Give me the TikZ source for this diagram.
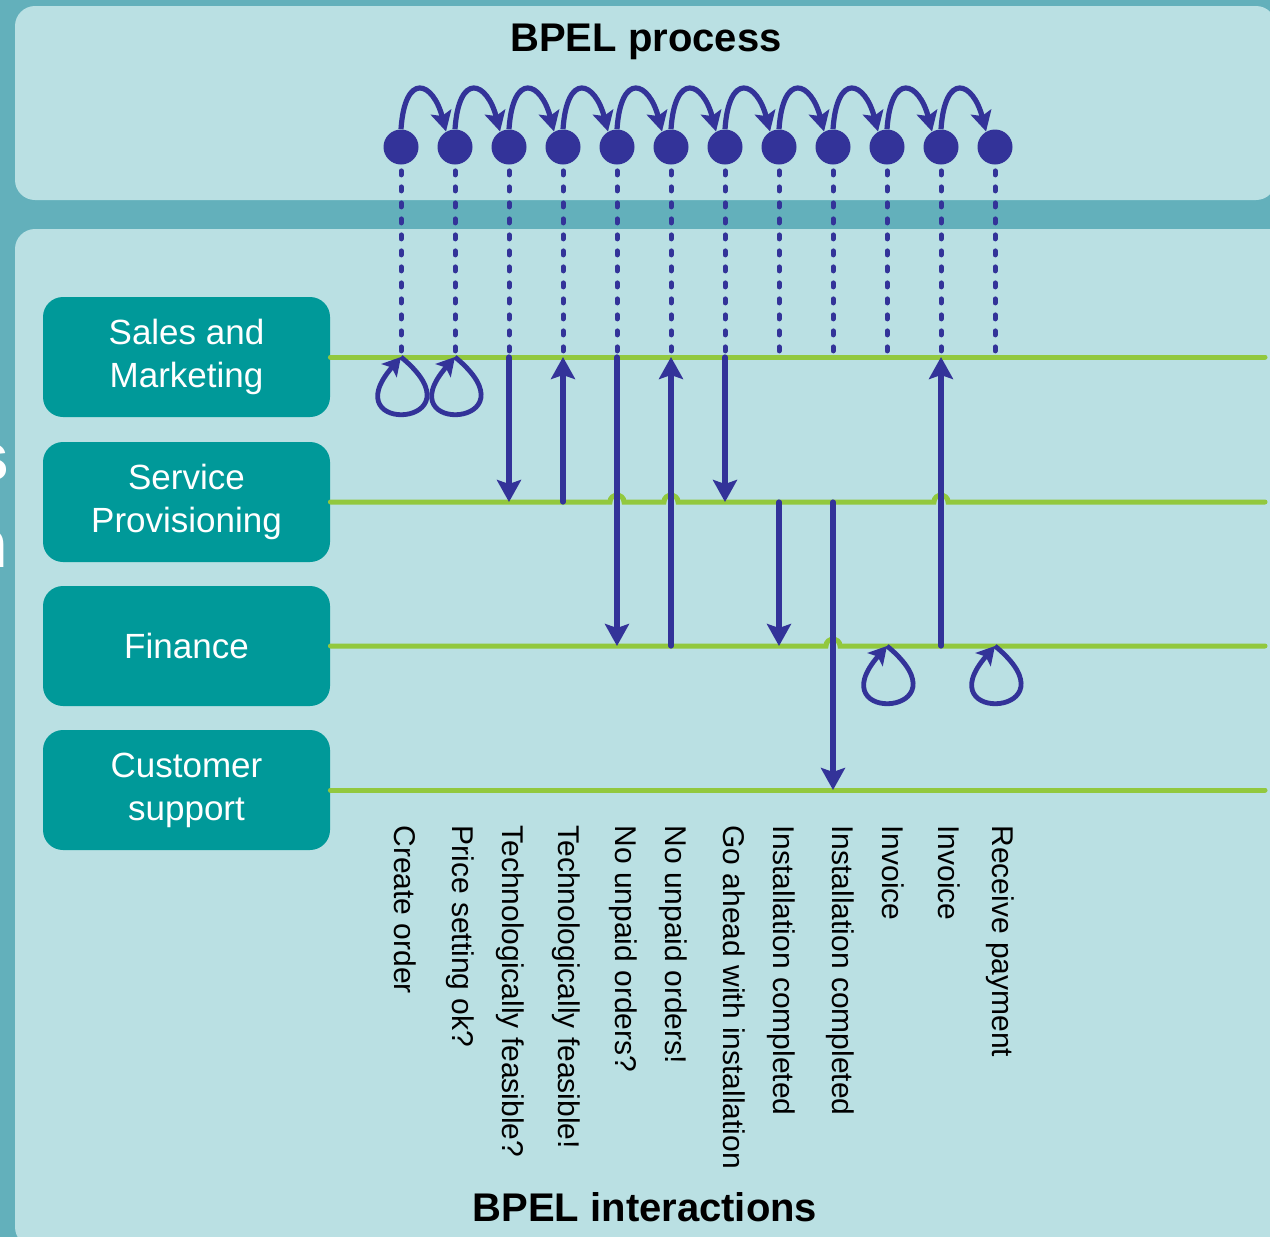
\documentclass[tikz,border=0pt]{standalone}
\usepackage{fontspec}
\setmainfont{Liberation Sans}
\usetikzlibrary{arrows.meta}
\definecolor{bgteal}{HTML}{63B0BB}
\definecolor{panelc}{HTML}{BAE0E3}
\definecolor{lanec}{HTML}{009999}
\definecolor{greenc}{HTML}{92C83E}
\definecolor{bluec}{HTML}{333399}
\begin{document}
\begin{tikzpicture}[x=0.5pt,y=-0.5pt,
  panel/.style={fill=panelc, rounded corners=10pt},
  lanebox/.style={fill=lanec, rounded corners=10pt, minimum width=143.5pt, minimum height=60pt, inner sep=0pt, align=center, text=white, font=\fontsize{17.5}{21.5}\selectfont},
  laneline/.style={draw=greenc, line width=2.5pt, line cap=round},
  dot/.style={circle, fill=bluec, minimum size=17.5pt, inner sep=0pt},
  seqarrow/.style={draw=bluec, line width=2.6pt, -{Stealth[length=10pt,width=10.5pt,inset=2pt]}},
  dashline/.style={draw=bluec, line width=2.5pt, line cap=round, dash pattern=on 2pt off 6pt},
  msg/.style={draw=bluec, line width=2.6pt, line cap=round, -{Stealth[length=11pt,width=12pt,inset=2pt]}},
  selfloop/.style={draw=bluec, line width=2.4pt, -{Stealth[length=9pt,width=10pt,inset=2pt]}},
  lbl/.style={rotate=-90, anchor=base west, inner sep=0pt, font=\fontsize{15}{18}\selectfont},
  title/.style={anchor=base, inner sep=0pt, font=\bfseries\fontsize{20}{24}\selectfont},
  cut/.style={anchor=base east, inner sep=0pt, text=white, font=\bfseries\fontsize{34}{40}\selectfont}
]
\useasboundingbox (0,0) rectangle (1270,1237);
\fill[bgteal] (0,0) rectangle (1270,1237);
% cut-off letters at the left edge
\node[cut] (cuts) at (10,480) {s};
\node[cut] (cutn) at (8.5,567) {n};
% panels
\fill[panel] (15,6) rectangle (1276,200);
\fill[panel] (15,229) rectangle (1290,1247);
% titles
\node[title] (ptitle) at (646,51) {BPEL process};
\node[title] (ititle) at (645,1221) {BPEL interactions};
% lane boxes
\node[lanebox] (sales) at (186.5,357) {Sales and\\Marketing};
\node[lanebox] (service) at (186.5,502) {Service\\Provisioning};
\node[lanebox] (finance) at (186.5,646) {Finance};
\node[lanebox] (customer) at (186.5,790) {Customer\\support};
% columns
\foreach \i in {0,...,11} {
  \pgfmathsetmacro\xx{401+54*\i}
  \node[dot] (c\i) at (\xx,147) {};
  \coordinate (s\i) at (\xx,357);
  \coordinate (v\i) at (\xx,502);
  \coordinate (f\i) at (\xx,646);
  \coordinate (u\i) at (\xx,790);
}
% lane lines with hops
\draw[laneline] (sales.east) -- (1265,357);
\draw[laneline] (service.east)
  -- ([xshift=-3.5pt]v4) .. controls +(0,-9) and +(0,-9) .. ([xshift=3.5pt]v4)
  -- ([xshift=-3.5pt]v5) .. controls +(0,-9) and +(0,-9) .. ([xshift=3.5pt]v5)
  -- ([xshift=-3.5pt]v10) .. controls +(0,-9) and +(0,-9) .. ([xshift=3.5pt]v10)
  -- (1265,502);
\draw[laneline] (finance.east)
  -- ([xshift=-3.5pt]f8) .. controls +(0,-9) and +(0,-9) .. ([xshift=3.5pt]f8)
  -- (1265,646);
\draw[laneline] (customer.east) -- (1265,790);
% dashed links from process steps to the sales lane
\foreach \i in {0,...,11} {
  \draw[dashline] ([yshift=-3pt]c\i.south) -- (s\i);
}
% sequence arcs
\foreach \i [evaluate=\i as \j using int(\i+1)] in {0,...,10} {
  \draw[seqarrow] (c\i.north) .. controls +(4,-58) and +(-13,-50) .. (c\j.120);
}
% messages between lanes
\draw[msg] (s2) -- (v2);
\draw[msg] (v3) -- (s3);
\draw[msg] (s4) -- (f4);
\draw[msg] (f5) -- (s5);
\draw[msg] (s6) -- (v6);
\draw[msg] (v7) -- (f7);
\draw[msg] (v8) -- (u8);
\draw[msg] (f10) -- (s10);
% self loops
\draw[selfloop] (s0) .. controls +(85,70) and +(-70,80) .. (s0);
\draw[selfloop] (s1) .. controls +(85,70) and +(-70,80) .. (s1);
\draw[selfloop] (f9) .. controls +(85,70) and +(-70,80) .. (f9);
\draw[selfloop] (f11) .. controls +(85,70) and +(-70,80) .. (f11);
% labels
\foreach \b/\t [count=\k from 0] in {394/Create order, 452/Price setting ok?, 502/Technologically feasible?, 558/Technologically feasible!, 615/No unpaid orders?, 665/No unpaid orders!, 723/Go ahead with installation, 773/Installation completed, 832/Installation completed, 882/Invoice, 938/Invoice, 992/Receive payment} {
  \node[lbl] (l\k) at (\b,825) {\t};
}
\end{tikzpicture}
\end{document}
